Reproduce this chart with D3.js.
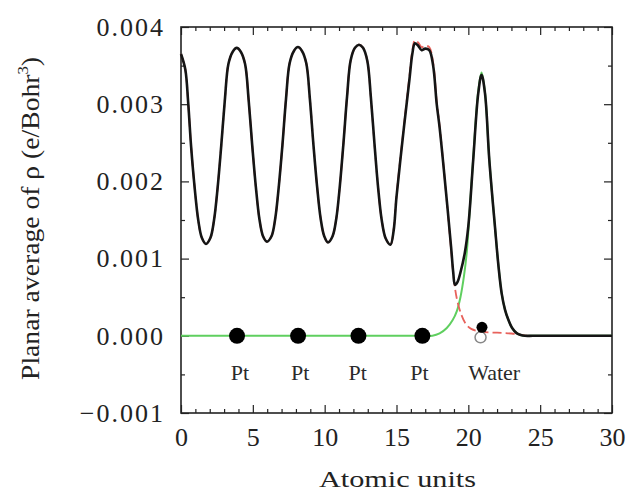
<!DOCTYPE html>
<html>
<head>
<meta charset="utf-8">
<script src="https://cdn.jsdelivr.net/npm/d3@7"></script>
<style>
  html, body { margin: 0; padding: 0; background: #fff; }
  svg { display: block; font-family: "Liberation Serif", "Times New Roman", serif; }
</style>
</head>
<body>
<div id="chart"></div>
<script>
// planar average of rho, in units of 1e-3 e/Bohr^3, against z in atomic units
const totalDensity = [
  [0, 3.65], [0.3, 3.45], [0.5, 3.02], [0.7, 2.46], [0.95, 1.92], [1.2, 1.5], [1.45, 1.27], [1.74, 1.19],
  [2.05, 1.27], [2.3, 1.5], [2.55, 1.92], [2.8, 2.46], [3.05, 3.05], [3.3, 3.52], [3.6, 3.68], [3.88, 3.73],
  [4.16, 3.68], [4.46, 3.52], [4.71, 3.05], [4.96, 2.46], [5.21, 1.93], [5.46, 1.51], [5.71, 1.29], [5.98, 1.22],
  [6.3, 1.29], [6.56, 1.52], [6.81, 1.94], [7.06, 2.47], [7.31, 3.07], [7.56, 3.53], [7.86, 3.69], [8.14, 3.74],
  [8.42, 3.69], [8.72, 3.53], [8.97, 3.07], [9.22, 2.47], [9.47, 1.94], [9.72, 1.52], [9.97, 1.29], [10.23, 1.21],
  [10.55, 1.29], [10.81, 1.52], [11.06, 1.95], [11.31, 2.5], [11.56, 3.1], [11.81, 3.57], [12.11, 3.73], [12.39, 3.77],
  [12.67, 3.73], [12.97, 3.56], [13.22, 3.08], [13.47, 2.48], [13.72, 1.92], [13.97, 1.5], [14.25, 1.26], [14.58, 1.18],
  [14.8, 1.36], [15.0, 1.8], [15.5, 2.67], [15.9, 3.32], [16.1, 3.65], [16.28, 3.79], [16.5, 3.76], [16.75, 3.7],
  [17.0, 3.72], [17.28, 3.7], [17.55, 3.5], [17.8, 3.0], [18.0, 2.7], [18.4, 1.95], [18.8, 1.15], [18.95, 0.82],
  [19.07, 0.66], [19.25, 0.7], [19.45, 0.82], [19.75, 1.07], [20.0, 1.42], [20.34, 2.28], [20.69, 3.14], [20.92, 3.38],
  [21.16, 3.14], [21.46, 2.28], [21.85, 1.42], [22.1, 0.9], [22.32, 0.55], [22.55, 0.34], [22.78, 0.21], [23.05, 0.1],
  [23.36, 0.035], [23.65, 0.01], [23.94, 0], [24.5, 0], [26, 0], [30, 0]
];

// Pt slab alone: same as the total below the last Pt layer
const ptSurface = [
  [14.58, 1.18], [14.8, 1.38], [15.0, 1.82], [15.5, 2.69], [15.9, 3.36], [16.1, 3.69], [16.28, 3.83], [16.5, 3.8],
  [16.75, 3.74], [17.0, 3.76], [17.28, 3.74], [17.55, 3.54], [17.8, 3.03], [18.0, 2.72], [18.4, 1.95], [18.8, 1.12],
  [19.0, 0.72], [19.2, 0.48], [19.5, 0.28], [19.8, 0.16], [20.2, 0.09], [21.0, 0.05], [22.0, 0.04], [23.0, 0.03],
  [23.6, 0.015], [24.2, 0], [26, 0], [30, 0]
];
const ptDensity = totalDensity.filter((d) => d[0] < 14.5).concat(ptSurface);

// water layer alone
const waterDensity = [
  [0, 0], [16, 0], [17, 0], [17.5, 0], [18.0, 0.03], [18.5, 0.1], [18.9, 0.2], [19.2, 0.32], [19.45, 0.5],
  [19.7, 0.78], [19.9, 1.1], [20.05, 1.5], [20.34, 2.3], [20.69, 3.17], [20.92, 3.41], [21.16, 3.15], [21.46, 2.28],
  [21.85, 1.42], [22.1, 0.9], [22.32, 0.55], [22.55, 0.34], [22.78, 0.21], [23.05, 0.1], [23.36, 0.035],
  [23.65, 0.01], [23.94, 0], [24.5, 0], [26, 0], [30, 0]
];

const ptAtomX = [3.9, 8.15, 12.35, 16.8];
const waterO = [20.95, 0.11];
const waterH = [20.85, -0.02];

const atomLabels = ["Pt", "Pt", "Pt", "Pt", "Water"];
const atomLabelX = [4.1, 8.3, 12.3, 16.6, 21.8];
const atomLabelY = -0.57;

const xMajor = [0, 5, 10, 15, 20, 25, 30];
const xTickLabels = ["0", "5", "10", "15", "20", "25", "30"];
const xMinor = d3.range(0, 31, 1).filter((v) => v % 5 !== 0);
const yMajor = [-1, 0, 1, 2, 3, 4];
const yTickLabels = ["\u22120.001", "0.000", "0.001", "0.002", "0.003", "0.004"];
const yMinor = [-0.5, 0.5, 1.5, 2.5, 3.5];

const xTitle = "Atomic units";
const yTitle = "Planar average of \u03c1 (e/Bohr";

const W = 630, H = 491;
const plotLeft = 181, plotRight = 612, plotTop = 27, plotBottom = 413;

const svg = d3.select("#chart").append("svg")
  .attr("width", W)
  .attr("height", H)
  .attr("viewBox", `0 0 ${W} ${H}`);

svg.append("rect").attr("width", W).attr("height", H).attr("fill", "#fff");

const x = d3.scaleLinear().domain([0, 30]).range([plotLeft, plotRight]);
const y = d3.scaleLinear().domain([-1, 4]).range([plotBottom, plotTop]);

function tickGroup(axis, transform) {
  const g = svg.append("g").attr("transform", transform).call(axis);
  g.select(".domain").remove();
  g.selectAll(".tick line").attr("stroke", "#222").attr("stroke-width", 1.2);
  g.selectAll(".tick text").attr("fill", "#222").attr("font-family", "Liberation Serif, serif");
  return g;
}

// bottom
tickGroup(d3.axisBottom(x).tickValues(xMajor).tickSize(-8).tickPadding(15)
  .tickFormat((d, i) => xTickLabels[i]), `translate(0,${plotBottom})`)
  .selectAll(".tick text").attr("font-size", 26);
tickGroup(d3.axisBottom(x).tickValues(xMinor).tickSize(-4).tickFormat(""), `translate(0,${plotBottom})`);
// top
tickGroup(d3.axisTop(x).tickValues(xMajor).tickSize(-8).tickFormat(""), `translate(0,${plotTop})`);
tickGroup(d3.axisTop(x).tickValues(xMinor).tickSize(-4).tickFormat(""), `translate(0,${plotTop})`);
// left
tickGroup(d3.axisLeft(y).tickValues(yMajor).tickSize(-8).tickPadding(16)
  .tickFormat((d, i) => yTickLabels[i]), `translate(${plotLeft},0)`)
  .selectAll(".tick text").attr("font-size", 26).attr("letter-spacing", 2);
tickGroup(d3.axisLeft(y).tickValues(yMinor).tickSize(-4).tickFormat(""), `translate(${plotLeft},0)`);
// right
tickGroup(d3.axisRight(y).tickValues(yMajor).tickSize(-8).tickFormat(""), `translate(${plotRight},0)`);
tickGroup(d3.axisRight(y).tickValues(yMinor).tickSize(-4).tickFormat(""), `translate(${plotRight},0)`);

svg.append("rect")
  .attr("x", plotLeft).attr("y", plotTop)
  .attr("width", plotRight - plotLeft).attr("height", plotBottom - plotTop)
  .attr("fill", "none").attr("stroke", "#222").attr("stroke-width", 1.6);

const line = d3.line()
  .x((d) => x(d[0]))
  .y((d) => y(d[1]))
  .curve(d3.curveCatmullRom.alpha(0.5));

const plot = svg.append("g");

plot.append("path").datum(waterDensity)
  .attr("d", line).attr("fill", "none")
  .attr("stroke", "#5fcf5f").attr("stroke-width", 2);

plot.append("path").datum(ptDensity)
  .attr("d", line).attr("fill", "none")
  .attr("stroke", "#e8625c").attr("stroke-width", 1.8)
  .attr("stroke-dasharray", "9 4");

plot.append("path").datum(totalDensity)
  .attr("d", line).attr("fill", "none")
  .attr("stroke", "#151515").attr("stroke-width", 2.6)
  .attr("stroke-linejoin", "round");

// atoms
plot.selectAll("circle.pt")
  .data(ptAtomX)
  .join("circle")
  .attr("class", "pt")
  .attr("cx", (d) => x(d))
  .attr("cy", y(0))
  .attr("r", 8)
  .attr("fill", "#000");

plot.append("circle")
  .attr("cx", x(waterH[0])).attr("cy", y(waterH[1]))
  .attr("r", 5.5)
  .attr("fill", "none").attr("stroke", "#888").attr("stroke-width", 1.5);

plot.append("circle")
  .attr("cx", x(waterO[0])).attr("cy", y(waterO[1]))
  .attr("r", 5.5)
  .attr("fill", "#000");

plot.selectAll("text.atom")
  .data(atomLabels)
  .join("text")
  .attr("class", "atom")
  .attr("x", (d, i) => x(atomLabelX[i]))
  .attr("y", y(atomLabelY))
  .attr("text-anchor", "middle")
  .attr("font-size", 22)
  .attr("fill", "#2a2a2a")
  .text((d) => d);

// axis titles
svg.append("text")
  .attr("x", (plotLeft + plotRight) / 2 + 1)
  .attr("y", 487)
  .attr("text-anchor", "middle")
  .attr("font-size", 24)
  .attr("fill", "#222")
  .attr("textLength", 157)
  .attr("lengthAdjust", "spacingAndGlyphs")
  .text(xTitle);

const yt = svg.append("text")
  .attr("transform", `translate(39,${(plotTop + plotBottom) / 2 - 1.5}) rotate(-90)`)
  .attr("text-anchor", "middle")
  .attr("font-size", 25)
  .attr("fill", "#222")
  .attr("textLength", 323)
  .attr("lengthAdjust", "spacingAndGlyphs");
yt.append("tspan").text(yTitle);
yt.append("tspan").attr("font-size", 15).attr("dy", -11).text("3");
yt.append("tspan").attr("dy", 11).text(")");
</script>
</body>
</html>
